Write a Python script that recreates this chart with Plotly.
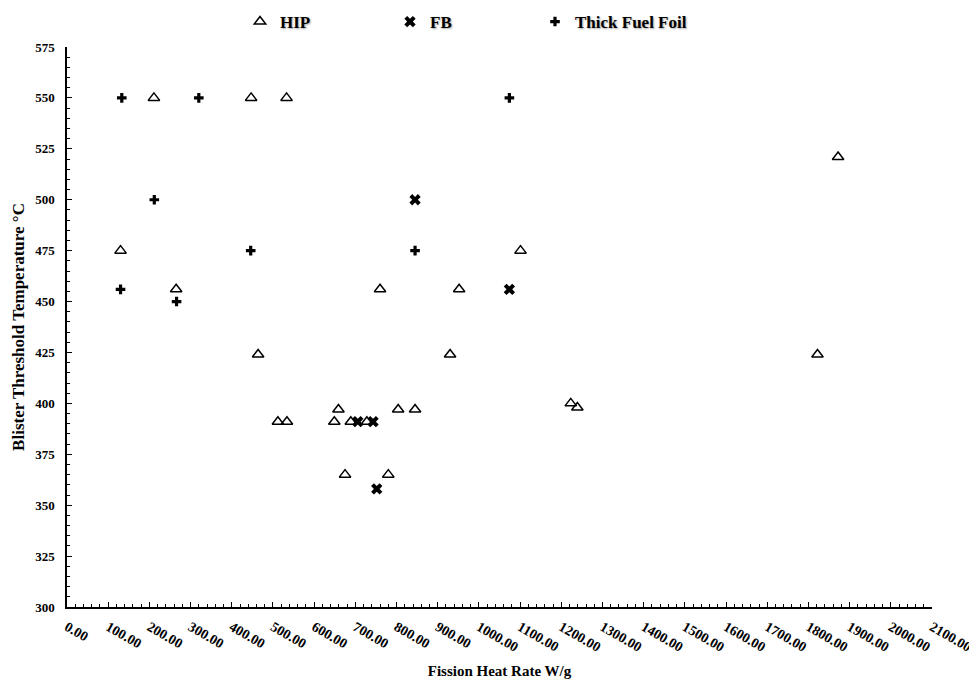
import plotly.graph_objects as go

# HIP data
hip_x = [211, 447, 533, 130, 265, 1872, 1101, 760, 952, 464, 930, 1822,
         512, 534, 659, 649, 689, 728, 804, 845, 675, 780, 1223, 1239]
hip_y = [550, 550, 550, 475, 456, 521, 475, 456, 456, 424, 424, 424,
         391, 391, 397, 391, 391, 391, 397, 397, 365, 365, 400, 398]

# FB data
fb_x = [845, 1074, 706, 743, 752]
fb_y = [500, 456, 391, 391, 358]

# Thick Fuel Foil data
tff_x = [133, 320, 1074, 212, 446, 845, 130, 266]
tff_y = [550, 550, 550, 500, 475, 475, 456, 450]

x_ticks = list(range(0, 2101, 100))
x_tick_labels = [f"{v:.2f}" for v in x_ticks]
y_ticks = list(range(300, 576, 25))

FONT = "Liberation Serif, Times New Roman, serif"

fig = go.Figure()
fig.add_trace(go.Scatter(
    x=hip_x, y=hip_y, mode="markers", name="HIP", legend="legend",
    marker=dict(symbol="triangle-up-open", size=10, color="black",
                line=dict(color="black", width=1.5))))
fig.add_trace(go.Scatter(
    x=fb_x, y=fb_y, mode="markers", name="FB", legend="legend2",
    marker=dict(symbol="x", size=10, color="black", line=dict(width=0))))
fig.add_trace(go.Scatter(
    x=tff_x, y=tff_y, mode="markers", name="Thick Fuel Foil", legend="legend3",
    marker=dict(symbol="cross", size=8, color="black", line=dict(width=0))))

L, T, PW, PH = 59, 39, 865, 560
legend_font = dict(family=FONT, size=17, color="black", weight="bold",
                   shadow="1px 1px 2px rgba(0,0,0,0.35)")


def leg(px_left):
    return dict(orientation="h", x=(px_left - L) / PW, xref="paper",
                y=1 + (T - 14) / PH, yanchor="middle", xanchor="left",
                font=legend_font, itemwidth=30, bgcolor="rgba(0,0,0,0)")


# page body has an 8px margin, so the figure is drawn 8px in from the top-left
fig.update_layout(
    width=969, height=671,
    margin=dict(l=L, r=45, t=T, b=72, autoexpand=False),
    paper_bgcolor="white", plot_bgcolor="white",
    font=dict(family=FONT, color="black"),
    showlegend=True,
    legend=leg(232), legend2=leg(382), legend3=leg(527),
)

fig.update_xaxes(
    range=[0, 2100], tickmode="array", tickvals=x_ticks, ticktext=x_tick_labels,
    tickangle=30, ticks="inside", ticklen=5, tickwidth=1, tickcolor="black",
    minor=dict(dtick=20, ticks="inside", ticklen=3, tickcolor="black", tickwidth=1),
    showline=True, linecolor="black", linewidth=1.5, showgrid=False, zeroline=False,
    tickfont=dict(family=FONT, size=14, weight="bold", color="black"),
    ticklabelstandoff=5,
    title=dict(text="Fission Heat Rate W/g", standoff=16,
               font=dict(family=FONT, size=15, weight="bold", color="black")),
    automargin=False,
)
fig.update_yaxes(
    range=[300, 575], tickmode="array", tickvals=y_ticks,
    ticks="inside", ticklen=5, tickwidth=1, tickcolor="black",
    minor=dict(dtick=5, ticks="inside", ticklen=3, tickcolor="black", tickwidth=1),
    showline=True, linecolor="black", linewidth=1.5, showgrid=False, zeroline=False,
    tickfont=dict(family=FONT, size=13, weight="bold", color="black"),
    ticklabelstandoff=8,
    title=dict(text="Blister Threshold Temperature °C", standoff=6,
               font=dict(family=FONT, size=17, weight="bold", color="black")),
    automargin=False,
)

fig.write_html("out.html")
